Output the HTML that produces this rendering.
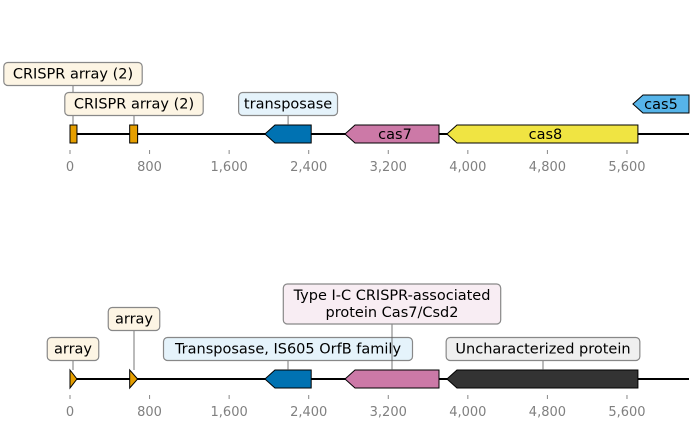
<!DOCTYPE html>
<html><head><meta charset="utf-8"><style>
html,body{margin:0;padding:0;background:#fff}
svg{display:block;font-family:"DejaVu Sans","Liberation Sans",sans-serif}
</style></head><body>
<svg id="chart" width="699" height="428"></svg>
<script>
const ticks=[0,800,1600,2400,3200,4000,4800,5600];
const tickLabels=["0","800","1,600","2,400","3,200","4,000","4,800","5,600"];
const topStarts=[0,600,1960,2765,3790,5660];
const topEnds=[70,680,2425,3710,5710,6400];
const topStrands=[0,0,-1,-1,-1,-1];
const topNames=["CRISPR array (2)","CRISPR array (2)","transposase","cas7","cas8","cas5"];
const topColors=["#e69f00","#e69f00","#0072b2","#cc79a7","#f0e442","#56b4e9"];
const botStarts=[0,600,1960,2765,3790];
const botEnds=[70,680,2425,3710,5710];
const botStrands=[1,1,-1,-1,-1];
const botNames=["array","array","Transposase, IS605 OrfB family","Type I-C CRISPR-associated|protein Cas7/Csd2","Uncharacterized protein"];
const botColors=["#e69f00","#e69f00","#0072b2","#cc79a7","#333333"];
const botBoxFill=["#fdf5e4","#fdf5e4","#e5f3fb","#f8edf3","#efefef"];

const NS="http://www.w3.org/2000/svg";
const svg=document.getElementById('chart');
const XMAX=689;
const x=bp=>70+bp*0.09946;
function mk(t,a,p){const e=document.createElementNS(NS,t);for(const k in a)e.setAttribute(k,a[k]);(p||svg).appendChild(e);return e;}

function axis(lineY,labelY){
  const g=mk('g',{});
  
  
  mk('line',{x1:70,x2:XMAX,y1:lineY,y2:lineY,stroke:'#000','stroke-width':2},g);
  ticks.forEach((t,i)=>{
    mk('line',{x1:x(t),x2:x(t),y1:lineY+16,y2:lineY+20,stroke:'#888','stroke-width':1},g);
    const tx=mk('text',{x:x(t),y:labelY,'text-anchor':'middle','font-size':13,fill:'#808080'},g);
    tx.textContent=tickLabels[i];
  });
}
function feature(s,e,strand,color,yc,h,name){
  const x1=x(s),x2=Math.min(x(e),XMAX),hh=h/2,hw=Math.min(10,(x2-x1));
  let pts;
  if(strand===-1) pts=[[x1,yc],[x1+hw,yc-hh],[x2,yc-hh],[x2,yc+hh],[x1+hw,yc+hh]];
  else if(strand===1) pts=[[x1,yc-hh],[x2-hw,yc-hh],[x2,yc],[x2-hw,yc+hh],[x1,yc+hh]];
  else pts=[[x1,yc-hh],[x2,yc-hh],[x2,yc+hh],[x1,yc+hh]];
  const p=mk('polygon',{points:pts.map(q=>q.join(',')).join(' '),fill:color,stroke:'#000','stroke-width':1});
  
  
  return p;
}
function label(cx,cy,lines,fill,lineTo,name){
  const lh=17,w=Math.max(...lines.map(l=>l.length))*7.9+12,h=lines.length*lh+6;
  if(lineTo!=null) mk('line',{x1:cx,x2:cx,y1:cy+h/2,y2:lineTo,stroke:'#555','stroke-width':0.8});
  const g=mk('g',{});
  
  
  mk('rect',{x:cx-w/2,y:cy-h/2,width:w,height:h,rx:4,fill:fill,stroke:'#888','stroke-width':1.2},g);
  lines.forEach((l,i)=>{const t=mk('text',{x:cx,y:cy-h/2+3+lh*(i+1)-4,'text-anchor':'middle','font-size':14.5,fill:'#000'},g);t.textContent=l;});
}

// top track
axis(134,171);
const topFill=["#fdf5e4","#fdf5e4","#e5f3fb"];
topStarts.forEach((s,i)=>feature(s,topEnds[i],topStrands[i],topColors[i],i===5?104:134,18,'top-'+i));
label(73,74,[topNames[0]],topFill[0],125,'crispr-array-1');
label(134,104,[topNames[1]],topFill[1],125,'crispr-array-2');
label(x((topStarts[2]+topEnds[2])/2),104,[topNames[2]],topFill[2],125,'transposase');
[3,4,5].forEach(i=>{
  const cx=i===5?661:x((topStarts[i]+topEnds[i])/2)+3;
  const t=mk('text',{x:cx,y:(i===5?104:134)+5,'text-anchor':'middle','font-size':14.5,fill:'#000'});
  t.textContent=topNames[i];
});

// bottom track
axis(379,416);
botStarts.forEach((s,i)=>feature(s,botEnds[i],botStrands[i],botColors[i],379,18,'bottom-'+i));
const botY=[349,319,349,304,349];
botStarts.forEach((s,i)=>{
  const cx=i===0?73:(i===1?134:x((s+botEnds[i])/2));
  const lines=botNames[i].split('|');
  label(i===4?543:(i===3?392:(i===2?288:cx)),botY[i],lines,botBoxFill[i],370,'bottom-'+i);
});
</script>
</body></html>
